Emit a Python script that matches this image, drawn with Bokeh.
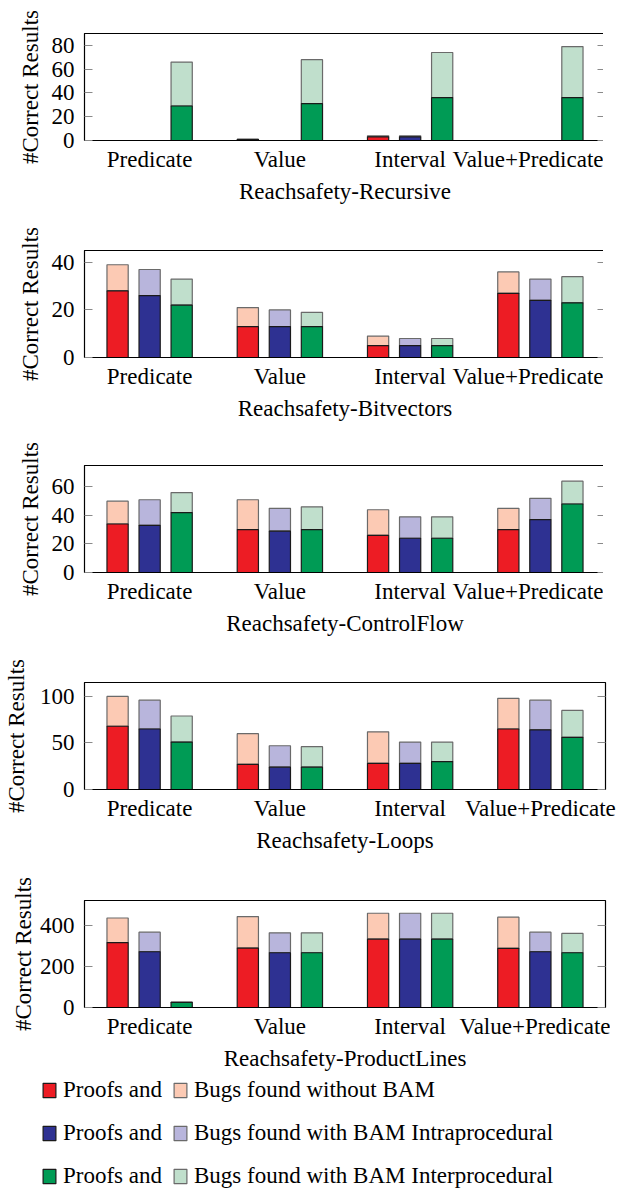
from bokeh.plotting import figure
from bokeh.models import (ColumnDataSource, FactorRange, Range1d, FixedTicker,
                          LinearAxis, Legend, LegendItem)
from bokeh.transform import dodge, stack
from bokeh.layouts import column
from bokeh.embed import file_html
from bokeh.resources import INLINE

# ---------------- data ----------------
categories = ["Predicate", "Value", "Interval", "Value+Predicate"]

# Reachsafety-Recursive
recursive_proofs_without = [0, 1, 3, 0]
recursive_bugs_without = [0, 0, 1, 0]
recursive_proofs_intra = [0, 0, 3, 0]
recursive_bugs_intra = [0, 0, 1, 0]
recursive_proofs_inter = [29, 31, 36, 36]
recursive_bugs_inter = [37, 37, 38, 43]

# Reachsafety-Bitvectors
bitvectors_proofs_without = [28, 13, 5, 27]
bitvectors_bugs_without = [11, 8, 4, 9]
bitvectors_proofs_intra = [26, 13, 5, 24]
bitvectors_bugs_intra = [11, 7, 3, 9]
bitvectors_proofs_inter = [22, 13, 5, 23]
bitvectors_bugs_inter = [11, 6, 3, 11]

# Reachsafety-ControlFlow
controlflow_proofs_without = [34, 30, 26, 30]
controlflow_bugs_without = [16, 21, 18, 15]
controlflow_proofs_intra = [33, 29, 24, 37]
controlflow_bugs_intra = [18, 16, 15, 15]
controlflow_proofs_inter = [42, 30, 24, 48]
controlflow_bugs_inter = [14, 16, 15, 16]

# Reachsafety-Loops
loops_proofs_without = [68, 27, 28, 65]
loops_bugs_without = [32, 33, 34, 33]
loops_proofs_intra = [65, 24, 28, 64]
loops_bugs_intra = [31, 23, 23, 32]
loops_proofs_inter = [51, 24, 30, 56]
loops_bugs_inter = [28, 22, 21, 29]

# Reachsafety-ProductLines
productlines_proofs_without = [315, 289, 332, 287]
productlines_bugs_without = [120, 153, 126, 152]
productlines_proofs_intra = [271, 266, 332, 271]
productlines_bugs_intra = [95, 97, 126, 95]
productlines_proofs_inter = [25, 266, 332, 266]
productlines_bugs_inter = [1, 97, 126, 94]

panel_titles = ["Reachsafety-Recursive", "Reachsafety-Bitvectors",
                "Reachsafety-ControlFlow", "Reachsafety-Loops",
                "Reachsafety-ProductLines"]
y_max = [90, 45, 75, 115, 520]
y_ticks = [[0, 20, 40, 60, 80], [0, 20, 40], [0, 20, 40, 60], [0, 50, 100],
           [0, 200, 400]]

legend_labels = ["Bugs found without BAM",
                 "Bugs found with BAM Intraprocedural",
                 "Bugs found with BAM Interprocedural"]

# ---------------- style ----------------
FONT = "Liberation Serif"
FS = "23px"
dark_colors = ["#ED1C24", "#2E3192", "#009B55"]
light_colors = ["#FCCAB4", "#B8B5DC", "#C0DFCC"]
offsets = [-0.246, 0.0, 0.246]
BAR_W = 0.163

panels = [
    [(recursive_proofs_without, recursive_bugs_without),
     (recursive_proofs_intra, recursive_bugs_intra),
     (recursive_proofs_inter, recursive_bugs_inter)],
    [(bitvectors_proofs_without, bitvectors_bugs_without),
     (bitvectors_proofs_intra, bitvectors_bugs_intra),
     (bitvectors_proofs_inter, bitvectors_bugs_inter)],
    [(controlflow_proofs_without, controlflow_bugs_without),
     (controlflow_proofs_intra, controlflow_bugs_intra),
     (controlflow_proofs_inter, controlflow_bugs_inter)],
    [(loops_proofs_without, loops_bugs_without),
     (loops_proofs_intra, loops_bugs_intra),
     (loops_proofs_inter, loops_bugs_inter)],
    [(productlines_proofs_without, productlines_bugs_without),
     (productlines_proofs_intra, productlines_bugs_intra),
     (productlines_proofs_inter, productlines_bugs_inter)],
]

top_borders = [33, 44, 42, 44, 45]
label_standoffs = [6, 6, 6, 8, 1]

figs = []
last_sources = []
for i, series in enumerate(panels):
    p = figure(x_range=FactorRange(factors=categories, range_padding=0),
               y_range=Range1d(0, y_max[i]),
               frame_width=521, frame_height=107,
               min_border_left=70, min_border_right=12,
               min_border_top=top_borders[i], min_border_bottom=0,
               output_backend="svg", toolbar_location=None,
               background_fill_color="white", border_fill_color="white")
    p.outline_line_color = "black"
    p.outline_line_width = 1.2
    p.grid.visible = False

    srcs = []
    for j, (proofs, bugs) in enumerate(series):
        src = ColumnDataSource(dict(cat=categories, p=proofs, b=bugs))
        x = dodge("cat", offsets[j], range=p.x_range)
        p.vbar(x=x, bottom=stack("p"), top=stack("p", "b"), width=BAR_W,
               source=src, fill_color=light_colors[j], line_color="#6a6a6a",
               line_width=1.2)
        p.vbar(x=x, bottom=0, top="p", width=BAR_W, source=src,
               fill_color=dark_colors[j], line_color="#1a1a1a", line_width=1.2)
        srcs.append(src)

    # y axis
    p.yaxis.ticker = FixedTicker(ticks=y_ticks[i])
    p.yaxis.major_tick_in = 8
    p.yaxis.major_tick_out = 0
    p.yaxis.minor_tick_line_color = None
    p.yaxis.major_tick_line_color = "#8a8a8a"
    p.yaxis.axis_line_color = "black"
    p.yaxis.major_label_standoff = 10
    p.yaxis.major_label_text_font = FONT
    p.yaxis.major_label_text_font_size = FS
    p.yaxis.major_label_text_color = "black"
    p.yaxis.axis_label = "#Correct Results"
    p.yaxis.axis_label_text_font = FONT
    p.yaxis.axis_label_text_font_size = FS
    p.yaxis.axis_label_text_font_style = "normal"
    p.yaxis.axis_label_text_color = "black"
    p.yaxis.axis_label_standoff = label_standoffs[i]

    # mirrored tick marks on the right edge (no labels)
    right = LinearAxis(ticker=FixedTicker(ticks=y_ticks[i]),
                       major_tick_in=8, major_tick_out=0,
                       major_tick_line_color="#8a8a8a",
                       minor_tick_line_color=None, axis_line_color=None,
                       major_label_text_font_size="1px",
                       major_label_text_color=None,
                       major_label_standoff=0)
    p.add_layout(right, "right")

    # x axis
    p.xaxis.major_tick_line_color = None
    p.xaxis.minor_tick_line_color = None
    p.xaxis.axis_line_color = "black"
    p.xaxis.major_label_standoff = 0
    p.xaxis.major_label_text_font = FONT
    p.xaxis.major_label_text_font_size = FS
    p.xaxis.major_label_text_color = "black"
    p.xaxis.axis_label = panel_titles[i]
    p.xaxis.axis_label_text_font = FONT
    p.xaxis.axis_label_text_font_size = FS
    p.xaxis.axis_label_text_font_style = "normal"
    p.xaxis.axis_label_text_color = "black"
    p.xaxis.axis_label_standoff = 4
    figs.append(p)
    last_sources = srcs

# ---------------- legend figure ----------------
# legend proxies share the ProductLines sources; the legend figure's own
# x range has no matching factors, so the proxy bars are never drawn and
# only their legend swatches show
lf = figure(width=612, height=119,
            x_range=FactorRange(factors=["legend"], range_padding=0),
            y_range=Range1d(-2, -1), x_axis_type=None, y_axis_type=None,
            output_backend="svg", toolbar_location=None, min_border=0,
            outline_line_color=None, background_fill_color="white",
            border_fill_color="white")
lf.grid.visible = False
items = []
for j in range(3):
    src = last_sources[j]
    x = dodge("cat", offsets[j], range=lf.x_range)
    rd = lf.vbar(x=x, bottom=0, top="p", width=BAR_W, source=src,
                 fill_color=dark_colors[j], line_color="#1a1a1a", line_width=1.2)
    rl = lf.vbar(x=x, bottom=stack("p"), top=stack("p", "b"), width=BAR_W,
                 source=src, fill_color=light_colors[j], line_color="#6a6a6a",
                 line_width=1.2)
    items.append(LegendItem(label="Proofs and", renderers=[rd]))
    items.append(LegendItem(label=legend_labels[j], renderers=[rl]))
leg = Legend(items=items, orientation="horizontal", ncols=2,
             location=(41, 0), spacing=10, padding=0, margin=0,
             glyph_width=16, glyph_height=18, label_standoff=6,
             label_height=33,
             label_text_font=FONT, label_text_font_size=FS,
             label_text_color="black", border_line_color=None,
             background_fill_alpha=0, click_policy="none")
lf.add_layout(leg)

layout = column(column(*figs), lf)
open("out.html", "w").write(file_html(layout, INLINE))
